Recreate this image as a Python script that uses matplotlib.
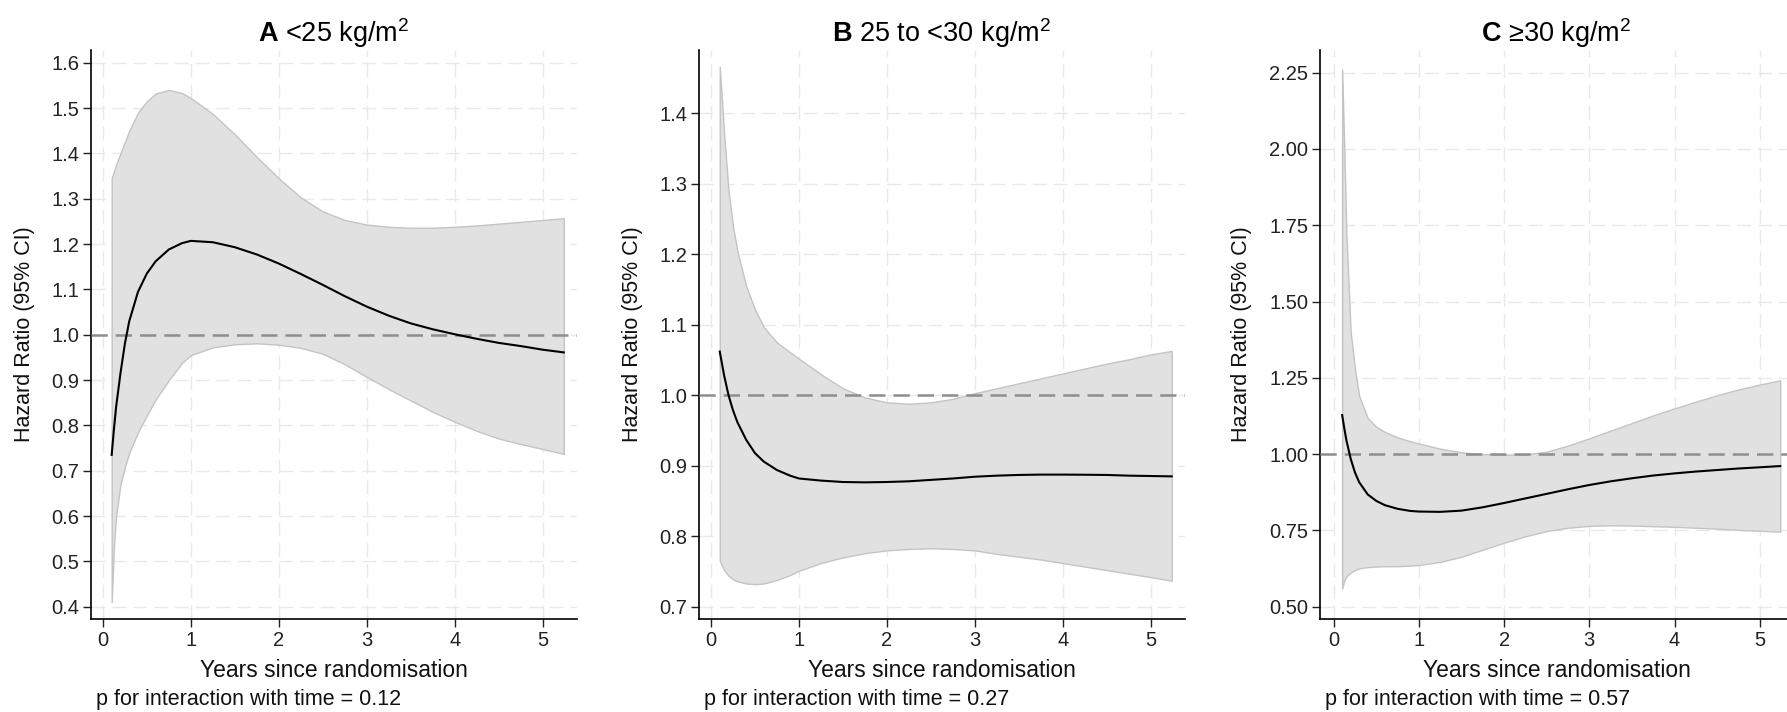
import numpy as np
import matplotlib
matplotlib.use("Agg")
import matplotlib.pyplot as plt

plt.rcParams["font.family"] = ["Liberation Sans", "DejaVu Sans"]
plt.rcParams["mathtext.fontset"] = "custom"
plt.rcParams["mathtext.rm"] = "Liberation Sans"
plt.rcParams["mathtext.bf"] = "Liberation Sans:bold"

# years since randomisation (same grid for all panels)
YEARS = [0.1, 0.125, 0.15, 0.2, 0.25, 0.3, 0.4, 0.5, 0.6, 0.75, 0.9, 1.0,
         1.25, 1.5, 1.75, 2.0, 2.25, 2.5, 2.75, 3.0, 3.25, 3.5, 3.75, 4.0,
         4.25, 4.5, 4.75, 5.0, 5.24]

# panel A  <25 kg/m2
HR_A = [0.735, 0.79, 0.84, 0.915, 0.98, 1.03, 1.095, 1.135, 1.162, 1.188, 1.202, 1.207,
        1.204, 1.193, 1.177, 1.157, 1.134, 1.11, 1.085, 1.062, 1.042, 1.025, 1.012, 1.001,
        0.991, 0.982, 0.975, 0.967, 0.961]
UP_A = [1.345, 1.36, 1.375, 1.40, 1.425, 1.45, 1.49, 1.515, 1.532, 1.54, 1.533, 1.522,
        1.487, 1.442, 1.392, 1.345, 1.303, 1.272, 1.253, 1.243, 1.238, 1.236, 1.236, 1.238,
        1.241, 1.245, 1.249, 1.253, 1.257]
LO_A = [0.41, 0.53, 0.60, 0.67, 0.708, 0.74, 0.785, 0.822, 0.857, 0.90, 0.938, 0.955,
        0.972, 0.979, 0.981, 0.978, 0.971, 0.958, 0.935, 0.907, 0.88, 0.855, 0.83, 0.808,
        0.788, 0.771, 0.759, 0.748, 0.737]

# panel B  25 to <30 kg/m2
HR_B = [1.062, 1.045, 1.028, 1.0, 0.979, 0.962, 0.937, 0.918, 0.906, 0.894, 0.886, 0.882,
        0.879, 0.877, 0.8765, 0.877, 0.878, 0.880, 0.882, 0.8845, 0.886, 0.887, 0.8875, 0.8875,
        0.8873, 0.887, 0.886, 0.8855, 0.885]
UP_B = [1.466, 1.42, 1.37, 1.29, 1.24, 1.205, 1.155, 1.122, 1.097, 1.075, 1.061, 1.052,
        1.03, 1.01, 0.997, 0.99, 0.988, 0.99, 0.995, 1.003, 1.01, 1.017, 1.024, 1.031,
        1.038, 1.045, 1.051, 1.058, 1.063]
LO_B = [0.766, 0.758, 0.752, 0.744, 0.739, 0.736, 0.733, 0.732, 0.733, 0.738, 0.745, 0.751,
        0.762, 0.77, 0.776, 0.780, 0.782, 0.783, 0.782, 0.780, 0.775, 0.771, 0.767, 0.762,
        0.757, 0.752, 0.747, 0.742, 0.737]

# panel C  >=30 kg/m2
HR_C = [1.128, 1.085, 1.045, 0.985, 0.94, 0.908, 0.868, 0.847, 0.833, 0.821, 0.814, 0.812,
        0.811, 0.815, 0.826, 0.840, 0.855, 0.870, 0.885, 0.899, 0.911, 0.921, 0.93, 0.937,
        0.943, 0.948, 0.953, 0.957, 0.961]
UP_C = [2.26, 2.0, 1.72, 1.40, 1.28, 1.19, 1.118, 1.09, 1.073, 1.055, 1.042, 1.035,
        1.018, 1.006, 1.0, 0.998, 0.999, 1.008, 1.028, 1.052, 1.077, 1.102, 1.127, 1.15,
        1.172, 1.193, 1.212, 1.228, 1.242]
LO_C = [0.56, 0.585, 0.60, 0.612, 0.62, 0.626, 0.63, 0.632, 0.633, 0.633, 0.635, 0.637,
        0.647, 0.664, 0.687, 0.71, 0.731, 0.748, 0.759, 0.765, 0.767, 0.766, 0.764, 0.762,
        0.759, 0.756, 0.752, 0.749, 0.746]

TITLES = [r"$\mathbf{A}$ <25 kg/m$^{2}$",
          r"$\mathbf{B}$ 25 to <30 kg/m$^{2}$",
          r"$\mathbf{C}$ ≥30 kg/m$^{2}$"]
P_VALUES = ["0.12", "0.27", "0.57"]
Y_TICKS = [
    [0.4, 0.5, 0.6, 0.7, 0.8, 0.9, 1.0, 1.1, 1.2, 1.3, 1.4, 1.5, 1.6],
    [0.7, 0.8, 0.9, 1.0, 1.1, 1.2, 1.3, 1.4],
    [0.50, 0.75, 1.00, 1.25, 1.50, 1.75, 2.00, 2.25],
]
Y_FMT = ["{:.1f}", "{:.1f}", "{:.2f}"]
Y_LIMS = [(0.373, 1.628), (0.6826, 1.49), (0.46, 2.324)]
X_LIMS = [(-0.135, 5.39), (-0.136, 5.39), (-0.16, 5.39)]

W, H = 1787, 712
# axes boxes in pixels: left, width
BOXES = [(91, 486), (699, 486), (1320, 473)]
YLABEL_X = [-0.136, -0.137, -0.166]
TOP, BOTTOM = 50, 619

fig = plt.figure(figsize=(W / 100, H / 100), dpi=100)

panels = [(HR_A, UP_A, LO_A), (HR_B, UP_B, LO_B), (HR_C, UP_C, LO_C)]

for i, (hr, up, lo) in enumerate(panels):
    left, width = BOXES[i]
    ax = fig.add_axes([left / W, 1 - BOTTOM / H, width / W, (BOTTOM - TOP) / H])

    ax.fill_between(YEARS, lo, up, color="#e1e1e1", edgecolor="#c4c4c4",
                    linewidth=1.0, zorder=2)
    ax.plot(YEARS, hr, color="black", linewidth=1.5, zorder=4)
    ax.axhline(1.0, color="#8e8e8e", linewidth=1.8, dashes=(6.5, 3.2), zorder=3)

    ax.set_xlim(*X_LIMS[i])
    ax.set_ylim(*Y_LIMS[i])
    ax.set_xticks(range(6))
    ax.set_yticks(Y_TICKS[i])
    ax.set_yticklabels([Y_FMT[i].format(v) for v in Y_TICKS[i]])

    ax.grid(True, color="#e9e9e9", linewidth=1.0, dashes=(10, 5), zorder=1)
    ax.set_axisbelow(True)
    for s in ["top", "right"]:
        ax.spines[s].set_visible(False)
    for s in ["left", "bottom"]:
        ax.spines[s].set_linewidth(1.2)
    ax.tick_params(length=5.5, width=1.0, labelsize=14.5, pad=3, colors="#222222")

    ax.set_ylabel("Hazard Ratio (95% CI)", fontsize=15.5, color="#111111")
    ax.yaxis.set_label_coords(YLABEL_X[i], 0.5)
    ax.yaxis.label.set_va("center")
    ax.set_xlabel("Years since randomisation", fontsize=16.5, color="#111111")
    ax.xaxis.set_label_coords(0.5, -0.09)
    ax.xaxis.label.set_va("center")

    ax.set_title(TITLES[i], fontsize=19.5, pad=5)

    fig.text((left + 5) / W, 12 / H, "p for interaction with time = " + P_VALUES[i],
             fontsize=15.5, va="center", ha="left", color="#111111")

fig.savefig("out.png", dpi=100)
